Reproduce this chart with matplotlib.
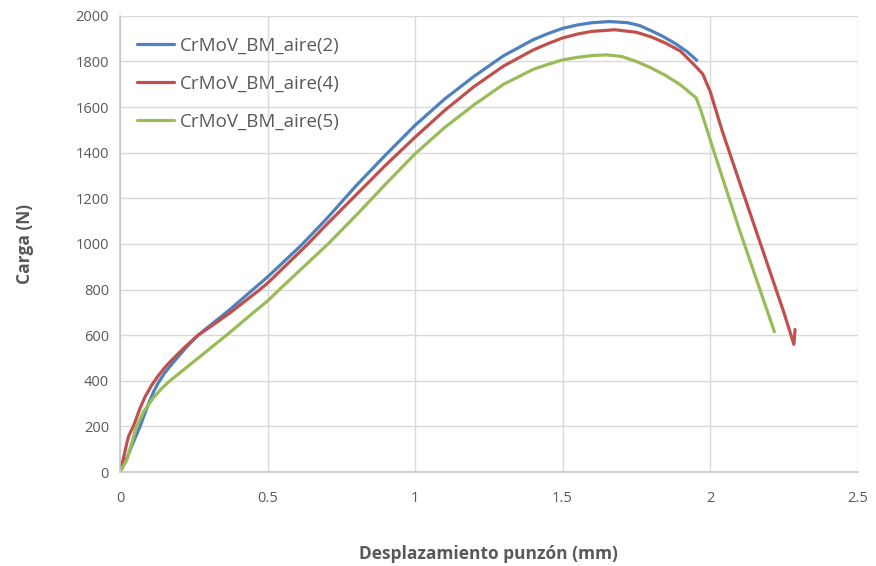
import matplotlib
matplotlib.use("Agg")
import matplotlib.pyplot as plt

# valores (desplazamiento mm, carga N)
x_aire2 = [0, 0.02, 0.04, 0.068, 0.085, 0.1, 0.115, 0.13, 0.15, 0.18, 0.22, 0.26,
           0.372, 0.446, 0.5, 0.615, 0.7, 0.8, 0.9, 1.0, 1.1, 1.2, 1.3, 1.4, 1.45,
           1.5, 1.55, 1.6, 1.66, 1.72, 1.76, 1.8, 1.84, 1.88, 1.92, 1.955]
y_aire2 = [0, 50, 115, 200, 260, 310, 355, 392, 432, 480, 540, 595,
           712, 795, 855, 995, 1110, 1255, 1390, 1520, 1635, 1735, 1825, 1895, 1922,
           1945, 1960, 1970, 1975, 1970, 1958, 1935, 1910, 1880, 1845, 1805]

x_aire4 = [0, 0.01, 0.023, 0.03, 0.045, 0.068, 0.085, 0.107, 0.13, 0.155, 0.18,
           0.22, 0.265, 0.372, 0.474, 0.5, 0.637, 0.7, 0.8, 0.9, 1.0, 1.1, 1.2, 1.3,
           1.4, 1.45, 1.5, 1.55, 1.6, 1.677, 1.75, 1.8, 1.85, 1.9, 1.95, 1.975, 2.0,
           2.04, 2.1, 2.15, 2.2, 2.25, 2.284, 2.288]
y_aire4 = [0, 50, 127, 160, 200, 280, 330, 380, 423, 463, 497,
           548, 600, 697, 800, 828, 1000, 1085, 1215, 1345, 1468, 1585, 1690, 1780,
           1850, 1878, 1903, 1920, 1932, 1939, 1928, 1908, 1880, 1845, 1780, 1745, 1670,
           1500, 1270, 1080, 890, 700, 560, 625]

x_aire5 = [0, 0.023, 0.056, 0.08, 0.113, 0.14, 0.169, 0.27, 0.361, 0.45, 0.5, 0.54,
           0.705, 0.8, 0.9, 1.0, 1.1, 1.2, 1.3, 1.4, 1.45, 1.5, 1.55, 1.6, 1.65,
           1.7, 1.75, 1.8, 1.85, 1.9, 1.953, 1.97, 2.02, 2.1, 2.218]
y_aire5 = [0, 53, 200, 265, 325, 365, 400, 505, 600, 697, 750, 800,
           1000, 1125, 1262, 1395, 1510, 1610, 1700, 1765, 1787, 1807, 1818, 1826, 1829,
           1822, 1800, 1772, 1738, 1697, 1640, 1580, 1377, 1060, 615]

series = [
    ("CrMoV_BM_aire(2)", x_aire2, y_aire2, "#4F81BD"),
    ("CrMoV_BM_aire(4)", x_aire4, y_aire4, "#C0504D"),
    ("CrMoV_BM_aire(5)", x_aire5, y_aire5, "#9BBB59"),
]

plt.rcParams['font.family'] = ['Open Sans', 'DejaVu Sans']
txt = "#595959"

fig = plt.figure(figsize=(8.76, 5.66), dpi=100)
ax = fig.add_axes([0.137, 0.166, 0.842, 0.806])

for name, xs, ys, c in series:
    ax.plot(xs, ys, color=c, lw=2.3, label=name, solid_capstyle="round",
            solid_joinstyle="round")

ax.set_xlim(0, 2.5)
ax.set_ylim(0, 2000)
ax.set_xticks([0, 0.5, 1, 1.5, 2, 2.5])
ax.set_xticklabels(["0", "0.5", "1", "1.5", "2", "2.5"])
ax.set_yticks(range(0, 2001, 200))
ax.grid(True, color="#D9D9D9", lw=1)
ax.set_axisbelow(True)
for s in ["top", "right"]:
    ax.spines[s].set_visible(False)
for s in ["left", "bottom"]:
    ax.spines[s].set_color("#C8C8C8")
    ax.spines[s].set_linewidth(1.2)
ax.tick_params(length=0, labelsize=10.5, labelcolor=txt, pad=8)
ax.tick_params(axis="x", pad=14)

ax.set_xlabel("Desplazamiento punzón (mm)", fontsize=12.5, fontweight="bold",
              color=txt, labelpad=28)
ax.set_ylabel("Carga (N)", fontsize=12.5, fontweight="bold", color=txt, labelpad=30)

leg = ax.legend(loc="upper left", frameon=False, fontsize=13.5, handlelength=2.0,
                handletextpad=0.3, labelspacing=1.07, borderpad=0, borderaxespad=0,
                bbox_to_anchor=(0.023, 0.954))
for t in leg.get_texts():
    t.set_color(txt)

fig.savefig("out.png", dpi=100)
